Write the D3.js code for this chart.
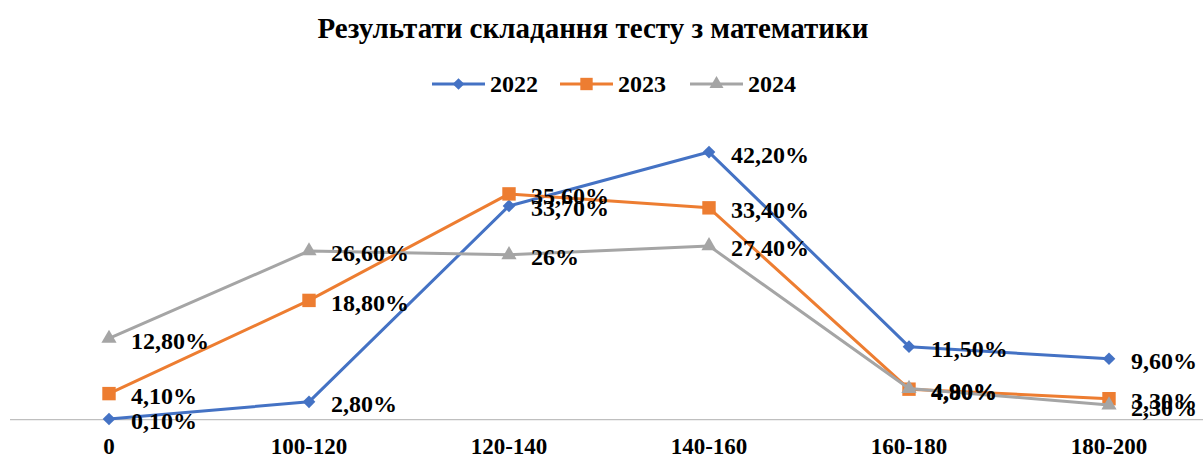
<!DOCTYPE html>
<html>
<head>
<meta charset="utf-8">
<script src="https://cdn.jsdelivr.net/npm/d3@7"></script>
<style>
  html, body { margin: 0; padding: 0; background: #fff; }
  svg { display: block; }
  svg text { font-family: 'Liberation Serif', 'Times New Roman', Times, serif; font-weight: bold; fill: #000; }
</style>
</head>
<body>
<svg id="chart" width="1203" height="457"></svg>
<script>
// Результати складання тесту з математики
const categories = ['0', '100-120', '120-140', '140-160', '160-180', '180-200'];
const seriesNames = ['2022', '2023', '2024'];
const values2022 = [0.1, 2.8, 33.7, 42.2, 11.5, 9.6];
const values2023 = [4.1, 18.8, 35.6, 33.4, 4.8, 3.3];
const values2024 = [12.8, 26.6, 26, 27.4, 4.9, 2.3];

const COLORS = { '2022': '#4472C4', '2023': '#ED7D31', '2024': '#A5A5A5' };

// diamond = rotated square
const series = [
    { name: seriesNames[0], values: values2022, marker: d3.symbolSquare, size: 80, rot: 45 },
    { name: seriesNames[1], values: values2023, marker: d3.symbolSquare, size: 180, rot: 0 },
    { name: seriesNames[2], values: values2024, marker: d3.symbolTriangle, size: 100, rot: 0 },
];

function fmt(v) {
    if (v % 1 === 0) return v + '%';
    return v.toFixed(2).replace('.', ',') + '%';
}

const W = 1203, H = 457;
const svg = d3.select('#chart');

const x = d3.scalePoint().domain(categories).range([9, 1209]).padding(0.5);
const y = d3.scaleLinear().domain([0, 50]).range([419.6, 102.6]);

// Title
svg.append('text')
    .attr('x', 593).attr('y', 38)
    .attr('text-anchor', 'middle')
    .style('font-size', '29px')
    .text('Результати складання тесту з математики');

// Legend
const legendX = [432, 560, 690];
series.forEach(function(s, i) {
    const lx = legendX[i], ly = 84;
    svg.append('line')
        .attr('x1', lx).attr('x2', lx + 53).attr('y1', ly).attr('y2', ly)
        .attr('stroke', COLORS[s.name]).attr('stroke-width', 3);
    svg.append('path')
        .attr('d', d3.symbol().type(s.marker).size(s.size * 0.85)())
        .attr('transform', 'translate(' + (lx + 26.5) + ',' + ly + ') rotate(' + s.rot + ')')
        .attr('fill', COLORS[s.name]);
    svg.append('text')
        .attr('x', lx + 58).attr('y', ly + 8)
        .style('font-size', '24px')
        .text(s.name);
});

// Category axis line
svg.append('line')
    .attr('x1', 10).attr('x2', W).attr('y1', y(0)).attr('y2', y(0))
    .attr('stroke', '#BFBFBF').attr('stroke-width', 1.2);

// Tick labels
svg.append('g').selectAll('text')
    .data(categories)
    .join('text')
    .attr('x', function(d) { return x(d); })
    .attr('y', 454)
    .attr('text-anchor', 'middle')
    .style('font-size', '23px')
    .text(function(d) { return d; });

// Lines + markers
const line = d3.line()
    .x(function(d, i) { return x(categories[i]); })
    .y(function(d) { return y(d); });

series.forEach(function(s) {
    svg.append('path')
        .datum(s.values)
        .attr('d', line)
        .attr('fill', 'none')
        .attr('stroke', COLORS[s.name])
        .attr('stroke-width', 3)
        .attr('stroke-linejoin', 'round')
        .attr('stroke-linecap', 'round');

    svg.append('g').selectAll('path')
        .data(s.values)
        .join('path')
        .attr('d', d3.symbol().type(s.marker).size(s.size)())
        .attr('transform', function(d, i) {
            return 'translate(' + x(categories[i]) + ',' + y(d) + ') rotate(' + s.rot + ')';
        })
        .attr('fill', COLORS[s.name]);
});

// Data labels, right of each point
const labels = svg.append('g');
series.forEach(function(s) {
    labels.selectAll(null)
        .data(s.values)
        .join('text')
        .attr('x', function(d, i) { return x(categories[i]) + 22; })
        .attr('y', function(d) { return y(d) + 10.5; })
        .style('font-size', '24px')
        .text(fmt);
});
</script>
</body>
</html>
